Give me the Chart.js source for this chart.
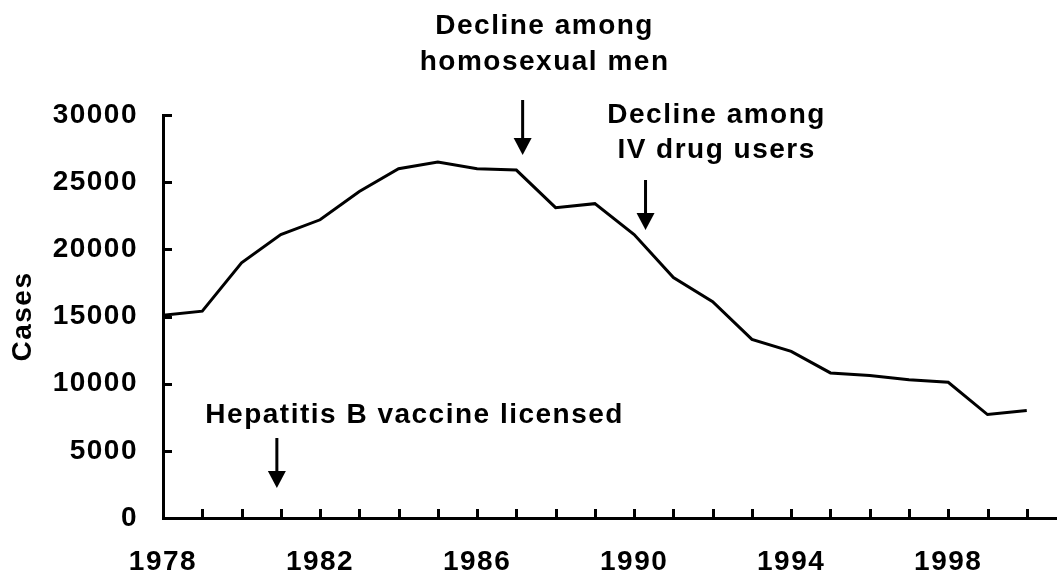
<!DOCTYPE html>
<html>
<head>
<meta charset="utf-8">
<script src="https://cdn.jsdelivr.net/npm/chart.js@4.4.1/dist/chart.umd.min.js"></script>
<style>
  html, body { margin: 0; padding: 0; background: #fff; }
  #wrap { width: 1057px; height: 576px; position: relative; }
</style>
</head>
<body>
<div id="wrap"><canvas id="c" width="1057" height="576"></canvas></div>
<script>
// ---- data ----
const years = [1978,1979,1980,1981,1982,1983,1984,1985,1986,1987,1988,1989,1990,1991,1992,1993,1994,1995,1996,1997,1998,1999,2000];
const cases = [15100,15400,19000,21100,22200,24300,26000,26500,26000,25900,23100,23400,21100,17900,16100,13300,12400,10800,10600,10300,10100,7700,8000];
const yTickValues = [0,5000,10000,15000,20000,25000,30000];
const xLabelYears = [1978,1982,1986,1990,1994,1998];
const yTitle = 'Cases';
const annotationTexts = [
  ['Hepatitis B vaccine licensed'],
  ['Decline among', 'homosexual men'],
  ['Decline among', 'IV drug users']
];

// ---- annotation anchors (in data units) ----
const annotationAnchors = [
  { x: 1984.41, baselines: [7072],  arrow: { x: 1980.9,  top: 5955,  tip: 2233 } },
  { x: 1987.72, baselines: [36030, 33350], arrow: { x: 1987.16, top: 31116, tip: 27022 } },
  { x: 1992.1,  baselines: [29404, 26799], arrow: { x: 1990.29, top: 25161, tip: 21439 } }
];

// ---- styles ----
const FAMILY = '"Liberation Sans", Arial, Helvetica, sans-serif';
const LS = '1.5px';
const font = { family: FAMILY, size: 28, weight: 'bold', lineHeight: 1.2 };
Chart.defaults.color = '#000';

const decor = {
  id: 'decor',
  beforeLayout(chart) { chart.ctx.letterSpacing = LS; },
  beforeDraw(chart) { chart.ctx.letterSpacing = LS; },
  afterDraw(chart) {
    const { ctx, chartArea, scales } = chart;
    const xs = scales.x, ys = scales.y;
    ctx.save();
    ctx.strokeStyle = '#000';
    ctx.fillStyle = '#000';
    ctx.lineWidth = 3;
    // inside tick marks
    xs.ticks.forEach(t => {
      const px = Math.round(xs.getPixelForValue(t.value));
      ctx.beginPath();
      ctx.moveTo(px + 0.5, chartArea.bottom);
      ctx.lineTo(px + 0.5, chartArea.bottom - 9);
      ctx.stroke();
    });
    ys.ticks.forEach(t => {
      const py = Math.round(ys.getPixelForValue(t.value));
      ctx.beginPath();
      ctx.moveTo(chartArea.left, py + 0.5);
      ctx.lineTo(chartArea.left + 9, py + 0.5);
      ctx.stroke();
    });
    // annotations
    ctx.letterSpacing = LS;
    ctx.font = 'bold 28px ' + FAMILY;
    ctx.textAlign = 'center';
    ctx.textBaseline = 'alphabetic';
    annotationAnchors.forEach((a, i) => {
      const cx = xs.getPixelForValue(a.x);
      annotationTexts[i].forEach((line, j) => {
        ctx.fillText(line, cx, ys.getPixelForValue(a.baselines[j]));
      });
      const ax = xs.getPixelForValue(a.arrow.x);
      const top = ys.getPixelForValue(a.arrow.top);
      const tip = ys.getPixelForValue(a.arrow.tip);
      const headH = 17, headW = 9;
      ctx.fillRect(ax - 1.5, top, 3, tip - headH - top + 1);
      ctx.beginPath();
      ctx.moveTo(ax - headW, tip - headH);
      ctx.lineTo(ax + headW, tip - headH);
      ctx.lineTo(ax, tip);
      ctx.closePath();
      ctx.fill();
    });
    ctx.restore();
  }
};

new Chart(document.getElementById('c'), {
  type: 'line',
  data: {
    datasets: [{
      data: years.map((y, i) => ({ x: y, y: cases[i] })),
      borderColor: '#000',
      borderWidth: 3,
      pointRadius: 0,
      tension: 0,
      fill: false
    }]
  },
  options: {
    responsive: false,
    animation: false,
    layout: { padding: { top: 115, left: 0, right: 0, bottom: 0 } },
    plugins: { legend: { display: false }, tooltip: { enabled: false } },
    scales: {
      x: {
        type: 'linear',
        min: 1978,
        max: 2000.77,
        afterFit(s) { s.height = 58; },
        grid: { display: false, drawTicks: false },
        border: { display: true, color: '#000', width: 3 },
        ticks: {
          stepSize: 1,
          autoSkip: false,
          maxRotation: 0,
          minRotation: 0,
          includeBounds: false,
          padding: 27,
          color: '#000',
          font: font,
          callback: v => xLabelYears.includes(v) ? String(v) : ''
        }
      },
      y: {
        min: 0,
        max: 30000,
        afterFit(s) { s.width = 163; },
        grid: { display: false, drawTicks: false },
        border: { display: true, color: '#000', width: 3 },
        ticks: {
          stepSize: 5000,
          padding: 25,
          color: '#000',
          font: font,
          callback: v => yTickValues.includes(v) ? String(v) : ''
        },
        title: {
          display: true,
          text: yTitle,
          color: '#000',
          font: font,
          padding: { top: 6, bottom: 0 }
        }
      }
    }
  },
  plugins: [decor]
});
</script>
</body>
</html>
